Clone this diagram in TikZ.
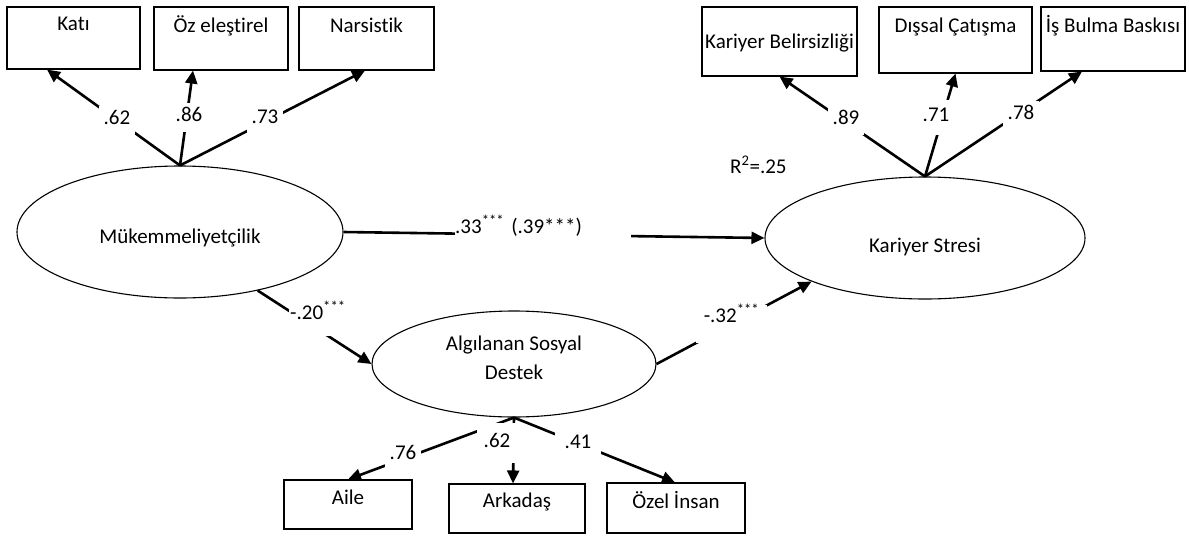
\documentclass[tikz,border=0pt]{standalone}
\usepackage{fontspec}
\setmainfont{Carlito}[Ligatures=NoCommon]
\usetikzlibrary{arrows.meta,shapes.geometric}
\begin{document}
\begin{tikzpicture}[x=1pt,y=-1pt,
  font=\fontsize{21}{25}\selectfont,
  latent/.style={draw, line width=1.1pt, ellipse, inner sep=0pt},
  ibox/.style={draw, line width=1.1pt, rectangle, inner sep=0pt, text height=16pt},
  arr/.style={line width=2.6pt, -{Triangle[length=13pt,width=12pt]}},
  lbl/.style={fill=white, inner xsep=5pt, inner ysep=4pt, text height=15pt, text depth=6pt},
]
\useasboundingbox (0,0) rectangle (1189,536);

% indicator boxes
\node[ibox, minimum width=133pt, minimum height=62pt, text depth=32pt] (kati) at (73.5,38) {Katı};
\node[ibox, minimum width=134pt, minimum height=63pt, text depth=29pt] (oz) at (221,38.5) {Öz eleştirel};
\node[ibox, minimum width=135pt, minimum height=63pt, text depth=29pt] (nar) at (366.5,38.5) {Narsistik};
\node[ibox, minimum width=155pt, minimum height=69pt, text depth=3pt] (kb) at (779.5,41.5) {Kariyer Belirsizliği};
\node[ibox, minimum width=153pt, minimum height=66pt, text depth=32pt] (dc) at (955.5,40) {Dışsal Çatışma};
\node[ibox, minimum width=144pt, minimum height=64pt, text depth=30pt] (ib) at (1113,39) {İş Bulma Baskısı};
\node[ibox, minimum width=128pt, minimum height=49pt, text depth=17pt] (aile) at (348,504.5) {Aile};
\node[ibox, minimum width=136pt, minimum height=49pt, text depth=19pt] (ark) at (517,508.5) {Arkadaş};
\node[ibox, minimum width=138pt, minimum height=50pt, text depth=16pt] (oi) at (676,508) {Özel İnsan};

% latent variables
\node[latent, minimum width=326pt, minimum height=132pt, text height=30pt, text depth=7pt] (mk) at (180,232) {Mükemmeliyetçilik};
\node[latent, minimum width=320pt, minimum height=122pt, text height=34pt, text depth=6pt] (ks) at (925,238) {Kariyer Stresi};
\node[latent, minimum width=284pt, minimum height=106pt,
  label={[name=asdtext, align=center, font=\fontsize{21}{29}\selectfont, yshift=6.5pt]center:{Algılanan Sosyal\\Destek}}] (asd) at (514,364) {};

% connectors
\draw[arr] (mk.north) -- ([xshift=-26.5pt]kati.south);
\draw[arr] (mk.north) -- ([xshift=-28pt]oz.south);
\draw[arr] (mk.north) -- ([xshift=-1.5pt]nar.south);
\draw[arr] (ks.north) -- (kb.south);
\draw[arr] (ks.north) -- (dc.south);
\draw[arr] (ks.north) -- ([xshift=-31pt]ib.south);
\draw[arr] (asd.south) -- (aile.north);
\draw[arr] (asd.south) -- ([xshift=-4pt]ark.north);
\draw[arr] (asd.south) -- ([xshift=-1pt]oi.north);
\draw[arr] (mk.east) -- (ks.west);
\draw[arr] (mk.-37) -- (asd.west);
\draw[arr] (asd.east) -- (ks.201);

% loadings
\node[lbl] (l62) at (117,120) {.62};
\node[lbl] (l86) at (189,117) {.86};
\node[lbl] (l73) at (265,119) {.73};
\node[lbl] (l89) at (846,120) {.89};
\node[lbl, minimum height=35pt] (l71) at (936,117) {.71};
\node[lbl] (l78) at (1021,115) {.78};
\node[lbl] (l76) at (403,455) {.76};
\node[lbl, minimum width=40pt, minimum height=40pt] (l62b) at (497,443) {.62};
\node[lbl, minimum width=46pt] (l41) at (578,444) {.41};

% path coefficients
\node[fill=white, inner sep=0pt, anchor=base west, text width=176pt, align=left, text height=17pt, text depth=7pt] (l33) at (455,233) {.33\textsuperscript{***} (.39***)};
\node[fill=white, inner xsep=1pt, inner ysep=0pt, anchor=base west, text height=16pt, text depth=17pt] (l20) at (289,319) {-.20\textsuperscript{***}};
\node[fill=white, inner xsep=8pt, inner ysep=1pt, anchor=base, text height=16pt, text depth=20pt] (l32) at (731.5,322) {-.32\textsuperscript{***}};
\node[anchor=west, inner sep=0pt] (r2) at (730,165) {R\textsuperscript{2}=.25};
\end{tikzpicture}
\end{document}
